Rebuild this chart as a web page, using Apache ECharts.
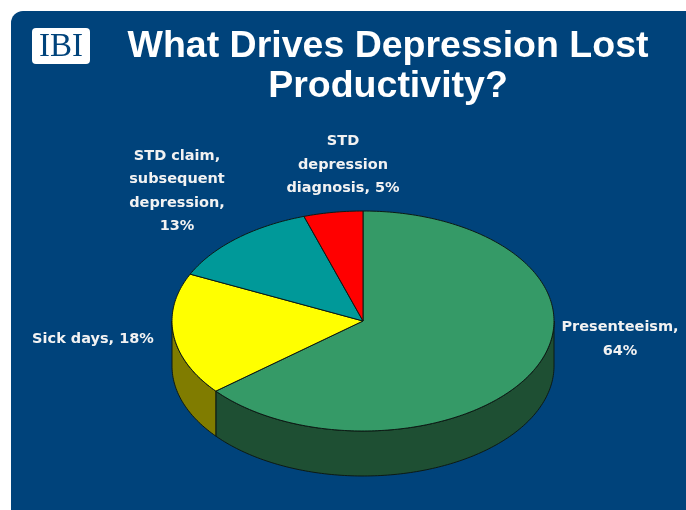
<!DOCTYPE html>
<html>
<head>
<meta charset="utf-8">
<title>What Drives Depression Lost Productivity?</title>
<script src="https://cdn.jsdelivr.net/npm/echarts@6/dist/echarts.min.js"></script>
<style>
html, body { margin: 0; padding: 0; background: #fff; }
#main { width: 686px; height: 510px; }
</style>
</head>
<body>
<div id="main"></div>
<script>
// data
var titleText = 'What Drives Depression Lost\nProductivity?';
var names = ['Presenteeism,\n', 'Sick days, ', 'STD claim,\nsubsequent\ndepression,\n', 'STD\ndepression\ndiagnosis, '];
var values = [64, 18, 13, 5];

// styles
var topColors = ['#359a67', '#ffff00', '#009999', '#ff0000'];
var wallColors = ['#1e4f33', '#807c00', '#006060', '#800000'];
var labelPos = [[620, 339], [93, 339], [177, 191], [343, 165]];

// pie geometry (ellipse, tilted)
var cx = 363, cy = 321, rx = 191, ry = 110, depth = 45;

var rows = [];
var total = values.reduce(function (a, b) { return a + b; }, 0);
var sum = 0;
for (var i = 0; i < values.length; i++) {
	rows.push([sum / total * 360, (sum + values[i]) / total * 360, i]);
	sum += values[i];
}

// angle is clockwise from 12 o'clock
function rim(deg, dy) {
	var r = deg * Math.PI / 180;
	return [cx + rx * Math.sin(r), cy - ry * Math.cos(r) + (dy || 0)];
}

function arc(a, b, dy) {
	var pts = [];
	var n = Math.max(2, Math.ceil((b - a) / 1));
	for (var k = 0; k <= n; k++) {
		pts.push(rim(a + (b - a) * k / n, dy));
	}
	return pts;
}

function renderWall(params, api) {
	// only the front half of the rim can be seen
	var a = Math.max(api.value(0), 90), b = Math.min(api.value(1), 270);
	if (a >= b) {
		return { type: 'group', children: [] };
	}
	var pts = arc(a, b, 0).concat(arc(a, b, depth).reverse());
	return {
		type: 'polygon',
		shape: { points: pts },
		style: { fill: wallColors[api.value(2)], stroke: '#0d1a14', lineWidth: 1 }
	};
}

function renderTop(params, api) {
	var pts = [[cx, cy]].concat(arc(api.value(0), api.value(1), 0));
	return {
		type: 'polygon',
		shape: { points: pts },
		style: { fill: topColors[api.value(2)], stroke: '#0d1a14', lineWidth: 1 }
	};
}

var labelEls = values.map(function (v, i) {
	return {
		type: 'text',
		x: labelPos[i][0],
		y: labelPos[i][1],
		z: 10,
		style: {
			text: names[i] + v + '%',
			fill: '#f2f2f2',
			font: 'bold 14.5px "DejaVu Sans", Arial, sans-serif',
			lineHeight: 23.5,
			align: 'center',
			verticalAlign: 'middle'
		}
	};
});

var myChart = echarts.init(document.getElementById('main'), null, { renderer: 'canvas' });
var option = {
	backgroundColor: '#ffffff',
	animation: false,
	title: {
		text: titleText,
		left: 383,
		top: 22,
		textAlign: 'center',
		textStyle: {
			color: '#ffffff',
			fontFamily: '"Liberation Sans", Arial, sans-serif',
			fontWeight: 'bold',
			fontSize: 37.5,
			lineHeight: 40
		}
	},
	graphic: [
		{
			type: 'rect',
			z: -5,
			shape: { x: 11, y: 11, width: 700, height: 520, r: [12, 0, 0, 0] },
			style: { fill: '#00437b' }
		},
		// IBI logo
		{
			type: 'rect',
			z: 5,
			shape: { x: 32, y: 28, width: 58, height: 36, r: 4 },
			style: { fill: '#ffffff' }
		},
		{
			type: 'text',
			x: 61,
			y: 47,
			z: 6,
			style: {
				text: 'IBI',
				fill: '#00437b',
				font: '33px "Liberation Serif", "Times New Roman", serif',
				align: 'center',
				verticalAlign: 'middle'
			}
		}
	].concat(labelEls),
	series: [
		{
			type: 'custom',
			coordinateSystem: 'none',
			renderItem: renderWall,
			data: rows,
			silent: true
		},
		{
			type: 'custom',
			coordinateSystem: 'none',
			renderItem: renderTop,
			data: rows,
			silent: true
		}
	]
};
myChart.setOption(option);
</script>
</body>
</html>
